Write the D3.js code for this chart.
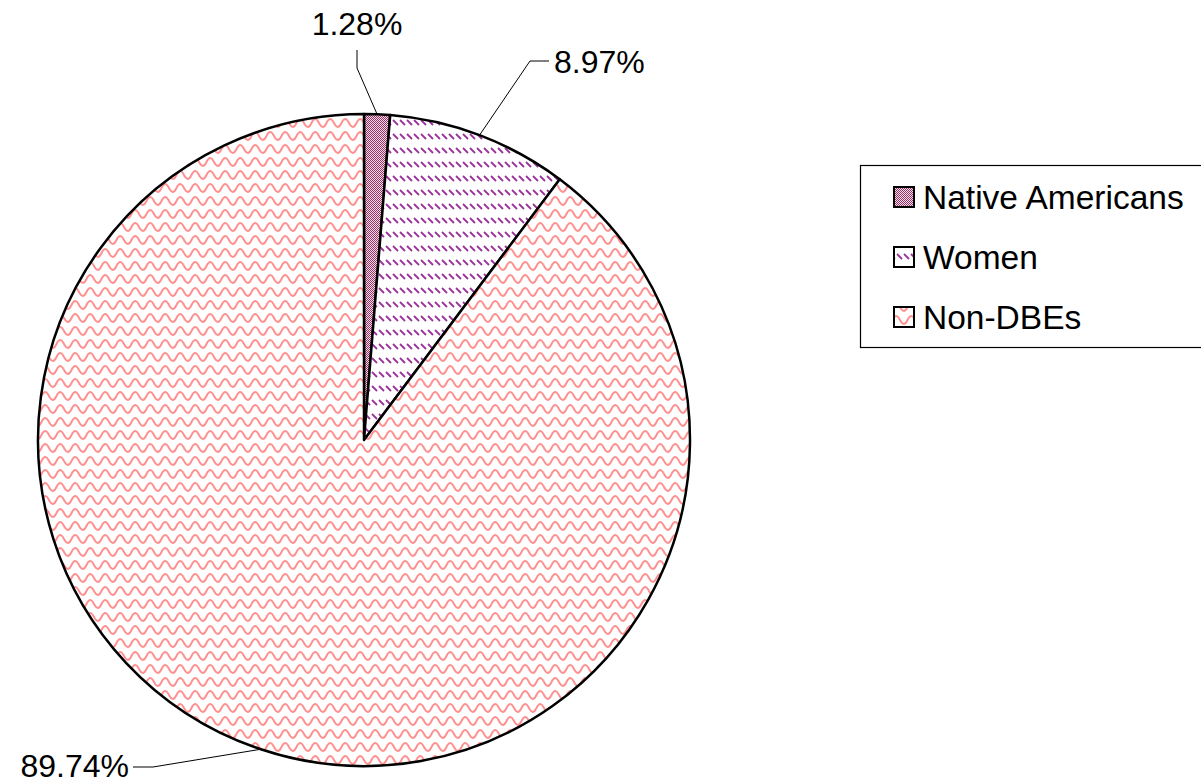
<!DOCTYPE html>
<html>
<head>
<meta charset="utf-8">
<script src="https://cdn.jsdelivr.net/npm/d3@7"></script>
<style>
  html, body { margin: 0; padding: 0; background: #fff; }
  svg { display: block; }
  text { font-family: "Liberation Sans", Arial, sans-serif; fill: #000; }
</style>
</head>
<body>
<svg id="chart" width="1201" height="784"></svg>
<script>
const categories = ["Native Americans", "Women", "Non-DBEs"];
const values = [1.28, 8.97, 89.74];
const valueLabels = ["1.28%", "8.97%", "89.74%"];
const patternIds = ["pat-check", "pat-dash", "pat-wave"];

const W = 1201, H = 784;
const cx = 364, cy = 440, R = 326;

const svg = d3.select("#chart");
const defs = svg.append("defs");

// Native Americans: fine checkerboard
const p1 = defs.append("pattern").attr("id", "pat-check")
  .attr("patternUnits", "userSpaceOnUse").attr("width", 2).attr("height", 2);
p1.append("rect").attr("width", 2).attr("height", 2).attr("fill", "#f4dce8");
p1.append("rect").attr("x", 0).attr("y", 0).attr("width", 1).attr("height", 1).attr("fill", "#993366");
p1.append("rect").attr("x", 1).attr("y", 1).attr("width", 1).attr("height", 1).attr("fill", "#993366");

// Women: dashed downward diagonal
const p2 = defs.append("pattern").attr("id", "pat-dash")
  .attr("patternUnits", "userSpaceOnUse").attr("width", 7).attr("height", 14);
p2.append("rect").attr("width", 7).attr("height", 14).attr("fill", "#ffffff");
[-7, 0, 7].forEach(x0 => {
  p2.append("line").attr("x1", x0 + 1).attr("y1", 2).attr("x2", x0 + 6).attr("y2", 7)
    .attr("stroke", "#993399").attr("stroke-width", 1.8);
});

// Non-DBEs: wave
const p3 = defs.append("pattern").attr("id", "pat-wave")
  .attr("patternUnits", "userSpaceOnUse").attr("width", 15).attr("height", 13);
p3.append("rect").attr("width", 15).attr("height", 13).attr("fill", "#ffffff");
p3.append("path").attr("d", "M-7.5,8 Q-3.75,0 0,8 T7.5,8 T15,8 T22.5,8")
  .attr("fill", "none").attr("stroke", "#ff9090").attr("stroke-width", 1.9);

const pie = d3.pie().sort(null).value(d => d)(values);
const arc = d3.arc().innerRadius(0).outerRadius(R);

const g = svg.append("g").attr("transform", `translate(${cx},${cy})`);
g.selectAll("path.slice").data(pie).join("path")
  .attr("class", "slice")
  .attr("d", arc)
  .attr("fill", (d, i) => `url(#${patternIds[i]})`)
  .attr("stroke", "#000").attr("stroke-width", 2.5).attr("stroke-linejoin", "round");

// leader lines and labels
const labelLayout = [
  { elbow: [357, 68], end: [357, 50], tx: 357, ty: 35, anchor: "middle" },
  { elbow: [530, 61], end: [549, 61], tx: 554, ty: 73, anchor: "start" },
  { elbow: [153, 767], end: [133, 767], tx: 129, ty: 777, anchor: "end" }
];
pie.forEach((d, i) => {
  const a = (d.startAngle + d.endAngle) / 2;
  const ex = cx + R * Math.sin(a), ey = cy - R * Math.cos(a);
  const L = labelLayout[i];
  svg.append("polyline")
    .attr("points", [[ex, ey], L.elbow, L.end].map(p => p.join(",")).join(" "))
    .attr("fill", "none").attr("stroke", "#000").attr("stroke-width", 1);
  svg.append("text").attr("x", L.tx).attr("y", L.ty)
    .attr("text-anchor", L.anchor).attr("font-size", 32)
    .text(valueLabels[i]);
});

// legend
const leg = svg.append("g");
leg.append("rect").attr("x", 860.5).attr("y", 165.5).attr("width", 345).attr("height", 182)
  .attr("fill", "#fff").attr("stroke", "#000").attr("stroke-width", 1.2);
const rowY = d3.scalePoint().domain(categories).range([197, 317]);
categories.forEach((c, i) => {
  const y = rowY(c);
  leg.append("rect").attr("x", 894).attr("y", y - 10).attr("width", 20).attr("height", 20)
    .attr("fill", `url(#${patternIds[i]})`).attr("stroke", "#000").attr("stroke-width", 2);
  leg.append("text").attr("x", 923).attr("y", y + 12).attr("font-size", 33.5).text(c);
});
</script>
</body>
</html>
